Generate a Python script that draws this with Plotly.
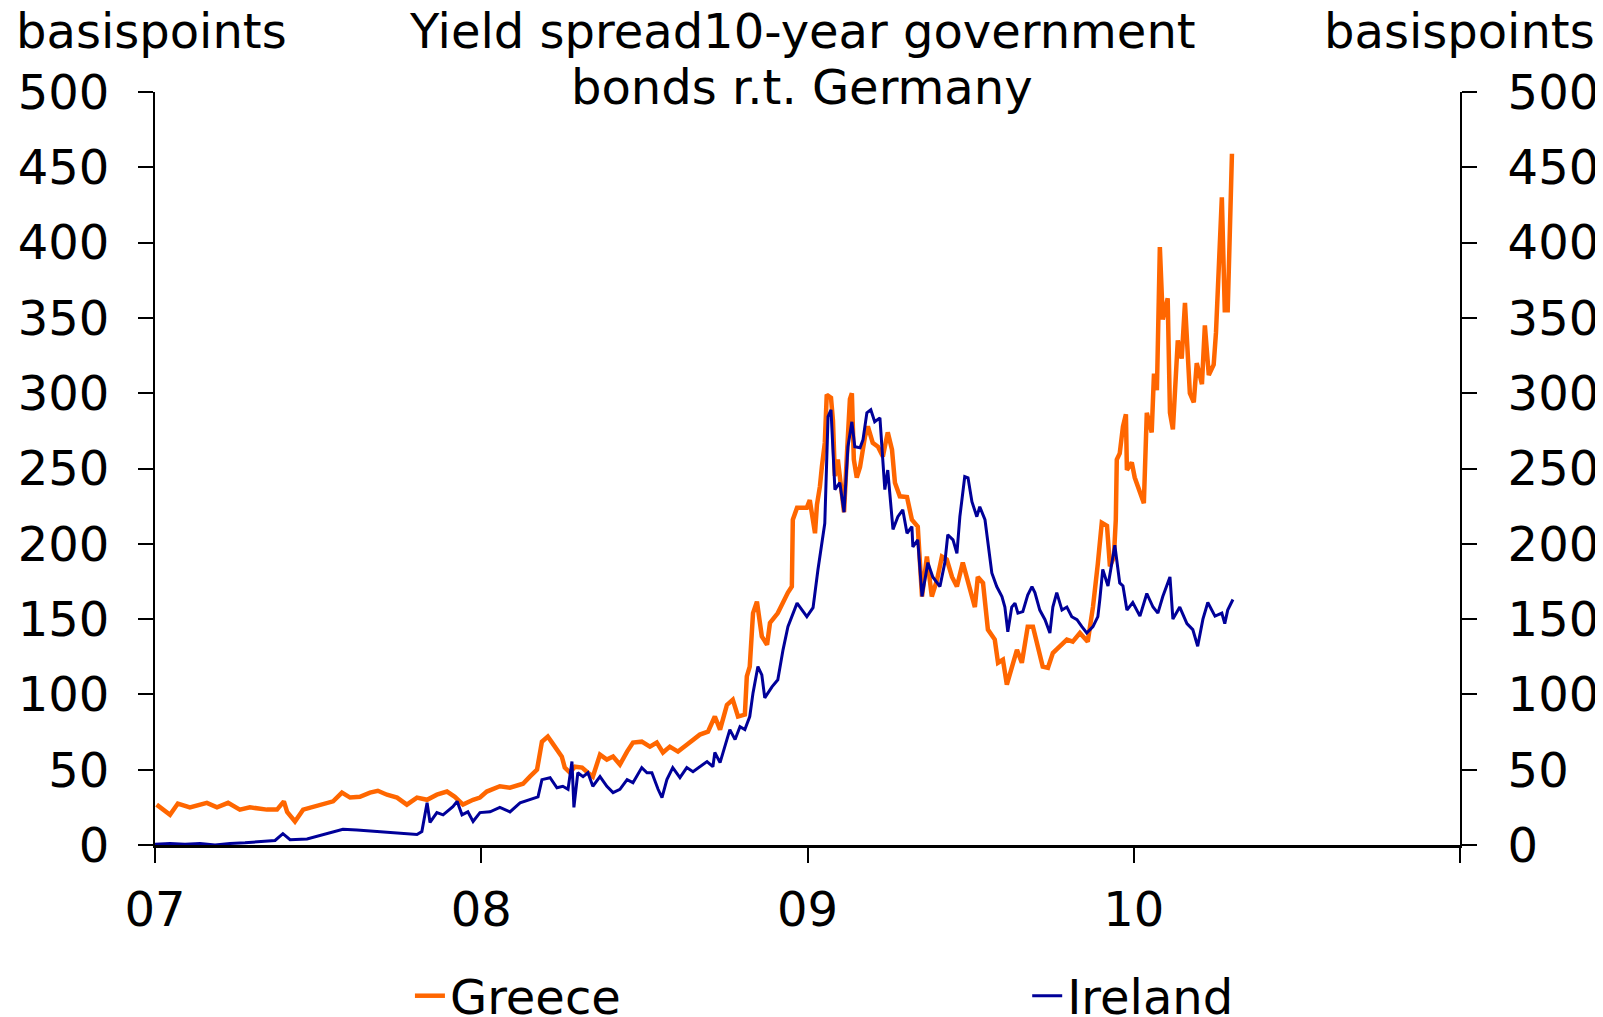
import plotly.graph_objects as go

# decimal years since 2007 and spread values (basis points)
greece_t = [0.005,0.025,0.046,0.070,0.107,0.159,0.190,0.224,0.260,0.291,0.343,0.374,0.395,0.405,0.429,0.454,0.484,0.515,0.546,0.573,0.598,0.628,0.659,0.683,0.711,0.742,0.772,0.803,0.834,0.864,0.895,0.919,0.944,0.975,0.996,
            1.017,1.057,1.088,1.128,1.149,1.171,1.186,1.204,1.217,1.232,1.247,1.256,1.272,1.287,1.309,1.327,1.342,1.364,1.385,1.404,1.425,1.447,1.465,1.492,1.517,1.538,1.557,1.578,1.603,1.630,1.649,1.670,1.695,1.716,1.732,1.753,1.771,1.787,1.808,1.814,1.823,1.833,1.845,1.854,1.860,1.876,1.885,1.909,1.925,1.940,1.952,1.955,1.968,1.998,
            2.007,2.023,2.029,2.038,2.044,2.053,2.059,2.072,2.078,2.084,2.093,2.105,2.112,2.121,2.130,2.136,2.142,2.151,2.161,2.176,2.185,2.200,2.216,2.231,2.246,2.259,2.268,2.283,2.305,2.320,2.338,2.351,2.366,2.381,2.397,2.412,2.427,2.443,2.458,2.476,2.498,2.513,2.522,2.538,2.553,2.574,2.584,2.599,2.611,2.626,2.642,2.657,2.675,2.691,2.706,2.721,2.737,2.752,2.774,2.795,2.813,2.835,2.859,2.875,2.890,2.902,2.918,2.927,2.939,2.945,2.948,2.957,2.967,2.976,2.979,2.994,
            3.003,3.019,3.031,3.040,3.055,3.062,3.071,3.080,3.089,3.104,3.111,3.120,3.126,3.135,3.147,3.157,3.172,3.184,3.193,3.209,3.218,3.230,3.245,3.252,3.270,3.279,3.288,3.295,3.301]
greece_v = [26.8,23.5,20,27.5,25,28,25,28,23.5,25,23.5,23.5,29,22,15.6,23.5,25.5,26.8,29,34.8,31.5,32,34.8,36,33.4,31.5,26.8,31.5,30,33.4,35.5,32,26.8,30,31.5,
            35.5,39,38,40.7,45.4,50,68.6,72,68,63.3,58.7,51.4,48,52,51.4,48,45.4,60,56.7,58.7,53.4,62,68,68.6,65.3,68,61.4,65.3,62,66.6,70,73.3,75.3,85.3,76.6,93,96.5,85.3,86.6,112,118.5,154,161.6,145,138.5,133,147.5,154,161.6,167.6,171.6,216,224,224,
            229,207,226,238,251,267,299,297,282,245,256,229,221,260,296,300,256,244,251,271,278,267,264.5,258,274,262.5,240.6,231.5,231,216,211.4,165,191.5,165,176,191.5,189.6,178,171.6,187.5,169.6,158,178,174,143,136.4,121,123,106.5,118.5,129.6,121,145,145,132,118.5,117.7,127.5,132,136.4,135,140.8,135,158,187,214,212,185,191,216,256,260,278,286,249,254,
            244,234,227,287,274,313,302,397,349,363,287,276,304,335,323,360,300,294,320,306,345,312,319,340,430,355,355,415,459]

ireland_t = [0.0,0.046,0.092,0.138,0.184,0.230,0.276,0.322,0.368,0.392,0.414,0.466,0.515,0.546,0.576,0.619,0.650,0.690,0.729,0.772,0.803,0.818,0.834,0.843,0.864,0.883,0.913,0.926,0.941,0.959,0.975,0.996,
             1.027,1.057,1.088,1.119,1.149,1.174,1.186,1.211,1.232,1.250,1.266,1.278,1.284,1.296,1.312,1.327,1.342,1.364,1.385,1.404,1.425,1.447,1.465,1.492,1.508,1.523,1.542,1.554,1.569,1.587,1.609,1.630,1.649,1.670,1.692,1.710,1.716,1.732,1.747,1.762,1.778,1.793,1.808,1.823,1.833,1.848,1.860,1.869,1.891,1.909,1.925,1.940,1.968,1.998,
             2.017,2.032,2.053,2.063,2.072,2.084,2.099,2.112,2.124,2.136,2.145,2.161,2.170,2.182,2.194,2.206,2.222,2.231,2.237,2.246,2.262,2.277,2.292,2.305,2.320,2.323,2.338,2.351,2.369,2.384,2.406,2.421,2.430,2.446,2.458,2.467,2.482,2.492,2.504,2.519,2.528,2.544,2.553,2.565,2.580,2.596,2.605,2.614,2.626,2.636,2.645,2.660,2.675,2.688,2.697,2.712,2.728,2.743,2.752,2.764,2.780,2.795,2.810,2.826,2.841,2.856,2.875,2.890,2.896,2.905,2.921,2.942,2.957,2.967,2.979,2.997,
             3.019,3.040,3.059,3.074,3.089,3.111,3.120,3.141,3.163,3.181,3.196,3.212,3.227,3.249,3.270,3.279,3.288,3.304]
ireland_v = [0.5,1,0.5,1,0,1,1.5,2.5,3,7.5,3.5,4,7,8.5,10.5,10,9.5,9,8.5,7.5,7,9,28,15,21.5,20,25.5,29,20,22,15.6,21.5,
             22,25,22,28,30,32,43.4,44.7,38,39,37,55.4,25,48,45.4,48,39,45.4,39,34.8,37,43.4,41.4,51.4,48,48,37,31.5,43.4,51.4,44.7,51.4,48.7,52,55.4,52,61.4,54.7,65.3,76.6,70,78.6,76.6,85.3,101,118.5,113,97.7,105,109.7,129.6,145,160.6,151.6,
             157.6,182.8,213.6,284.4,289,236,240.6,221,264.5,281,264.5,263.8,269,287,289,281,283.6,258,236,249,209.5,218,222.6,207,211.4,198,202.6,165,187.5,178,171.6,187.5,206,202.6,193.6,218,244.6,243.8,228,218,224.6,216,200.4,180.6,171.6,165,158,141.6,158,160.6,154,155,166,171.6,167.6,156,149.6,140.8,158,167.6,156,158,151.6,149.6,145,140.8,145,151.6,163,183,172,199,174,172,156,161,
             152,167,158,154,165,178,150,158,147,143,132,150,161,152,154,147,156,163]

year_ticks = [2007, 2008, 2009, 2010, 2011]
year_labels = ["07", "08", "09", "10", ""]
y_ticks = list(range(0, 501, 50))

FONT = "DejaVu Sans, Verdana, sans-serif"
FS = 48

fig = go.Figure()
fig.add_trace(go.Scatter(x=[2007 + t for t in greece_t], y=greece_v, mode="lines", name="Greece",
                         line=dict(color="#FF6600", width=4.5), legend="legend"))
fig.add_trace(go.Scatter(x=[2007 + t for t in ireland_t], y=ireland_v, mode="lines", name="Ireland",
                         line=dict(color="#000099", width=3), legend="legend2"))
# invisible trace keeps the right-hand axis drawn
fig.add_trace(go.Scatter(x=[2007], y=[0], yaxis="y2", mode="lines", showlegend=False,
                         hoverinfo="skip", line=dict(width=0)))

axis_common = dict(range=[0, 500], tickvals=y_ticks, ticks="outside", ticklen=15, tickwidth=2,
                   tickcolor="black", showline=True, linecolor="black", linewidth=2,
                   showgrid=False, zeroline=False,
                   tickfont=dict(family=FONT, size=FS, color="black"))

fig.update_layout(
    width=1595, height=1009,
    margin=dict(l=147, r=143, t=84, b=172, autoexpand=False),
    paper_bgcolor="white", plot_bgcolor="white",
    font=dict(family=FONT, size=FS, color="black"),
    xaxis=dict(range=[2007, 2011], tickvals=year_ticks, ticktext=year_labels, ticks="outside",
               ticklen=15, tickwidth=2, tickcolor="black", showline=True, linecolor="black",
               linewidth=3, showgrid=False, zeroline=False, ticklabelstandoff=5,
               tickfont=dict(family=FONT, size=FS, color="black")),
    yaxis=dict(**axis_common, side="left", ticklabelstandoff=19),
    yaxis2=dict(**axis_common, side="right", overlaying="y", ticklabelstandoff=21),
    legend=dict(orientation="h", x=0.252, xanchor="left", y=0.0208, yanchor="middle",
                xref="container", yref="container", font=dict(family=FONT, size=FS),
                bgcolor="rgba(0,0,0,0)"),
    legend2=dict(orientation="h", x=0.639, xanchor="left", y=0.0208, yanchor="middle",
                 xref="container", yref="container", font=dict(family=FONT, size=FS),
                 bgcolor="rgba(0,0,0,0)"),
    showlegend=True,
)

fig.add_annotation(text="basispoints", xref="paper", yref="paper", x=-0.108, y=1.081,
                   xanchor="left", yanchor="middle", showarrow=False, font=dict(size=FS))
fig.add_annotation(text="basispoints", xref="paper", yref="paper", x=1.105, y=1.081,
                   xanchor="right", yanchor="middle", showarrow=False, font=dict(size=FS))
fig.add_annotation(text="Yield spread10-year government", xref="paper", yref="paper",
                   x=0.496, y=1.081, xanchor="center", yanchor="middle", showarrow=False,
                   font=dict(size=FS))
fig.add_annotation(text="bonds r.t. Germany", xref="paper", yref="paper",
                   x=0.496, y=1.006, xanchor="center", yanchor="middle", showarrow=False,
                   font=dict(size=FS))

fig.write_html("out.html")
